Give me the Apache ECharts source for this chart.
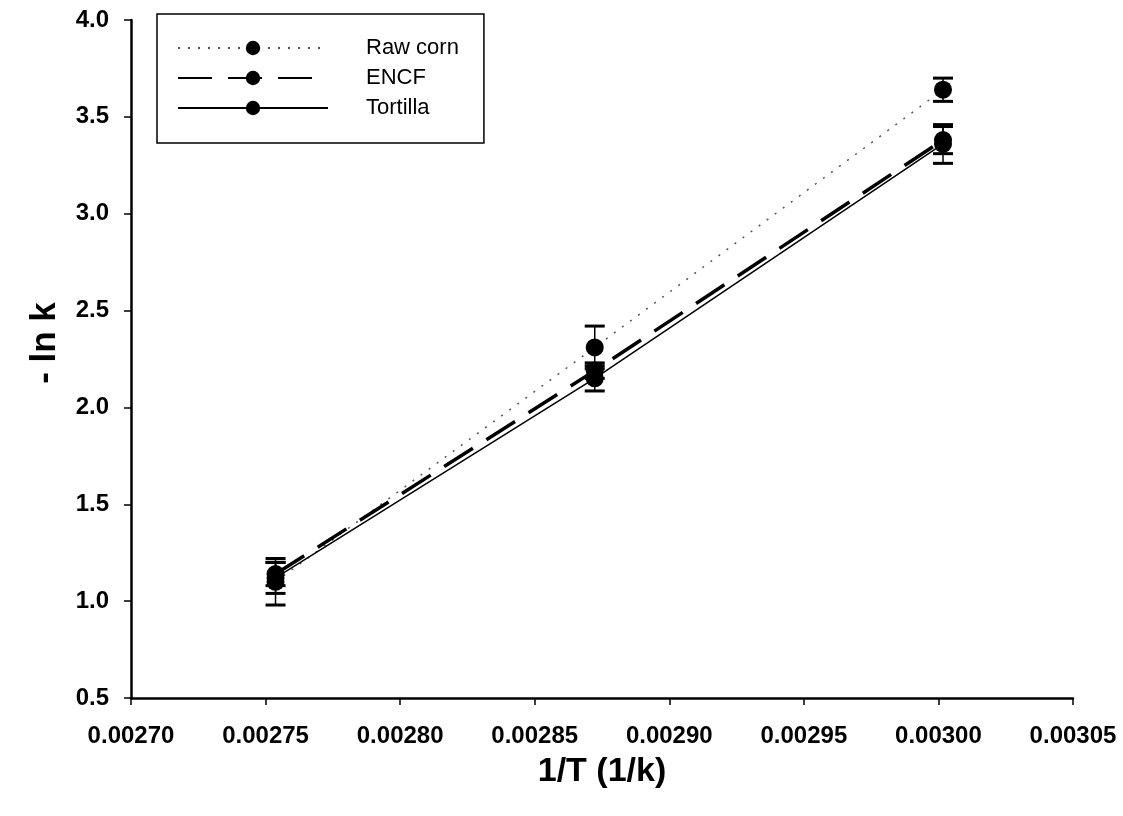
<!DOCTYPE html>
<html><head><meta charset="utf-8">
<script src="https://cdn.jsdelivr.net/npm/echarts@6/dist/echarts.min.js"></script>
<style>html,body{margin:0;padding:0;background:#fff}#c{width:1123px;height:816px}</style>
</head><body><div id="c"></div>
<script>
var xValues = [0.0027537, 0.0028723, 0.0030017];
var seriesNames = ['Raw corn', 'ENCF', 'Tortilla'];
var rawCorn = [1.10, 2.31, 3.64];
var rawCornErr = [0.12, 0.11, 0.06];
var encf = [1.14, 2.19, 3.38];
var encfErr = [0.06, 0.04, 0.07];
var tortilla = [1.12, 2.15, 3.36];
var tortillaErr = [0.08, 0.065, 0.10];
var xTicks = ['0.00270','0.00275','0.00280','0.00285','0.00290','0.00295','0.00300','0.00305'];
var yTicks = ['0.5','1.0','1.5','2.0','2.5','3.0','3.5','4.0'];

function pts(v){ return xValues.map(function(x,i){ return [x, v[i]]; }); }
function errs(v,e){ return xValues.map(function(x,i){ return [x, v[i]-e[i], v[i]+e[i]]; }); }

var FONT = '"Liberation Sans", Arial, sans-serif';
function errSeries(v,e){
  return {
    type:'custom', silent:true, z:4,
    data: errs(v,e),
    renderItem: function(params, api){
      var x = api.value(0);
      var lo = api.coord([x, api.value(1)]);
      var hi = api.coord([x, api.value(2)]);
      var w = 10;
      return {type:'group', children:[
        {type:'line', shape:{x1:lo[0],y1:lo[1],x2:hi[0],y2:hi[1]}, style:{stroke:'#000',lineWidth:1.5}},
        {type:'line', shape:{x1:lo[0]-w,y1:lo[1],x2:lo[0]+w,y2:lo[1]}, style:{stroke:'#000',lineWidth:3}},
        {type:'line', shape:{x1:hi[0]-w,y1:hi[1],x2:hi[0]+w,y2:hi[1]}, style:{stroke:'#000',lineWidth:3}}
      ]};
    }
  };
}

var chart = echarts.init(document.getElementById('c'));
chart.setOption({
  animation:false,
  backgroundColor:'#fff',
  grid:{left:131, right:50, top:20, bottom:118},
  legend:{
    left:157, top:14, orient:'vertical',
    data: seriesNames,
    itemWidth:150, itemHeight:18, itemGap:8,
    padding:[23, 25, 24, 20],
    borderColor:'#000', borderWidth:1.5,
    textStyle:{fontFamily:FONT, fontSize:22, color:'#000', padding:[0,0,0,33]}
  },
  xAxis:{
    type:'value', min:0.0027, max:0.00305, interval:0.00005,
    name:'1/T (1/k)', nameLocation:'middle', nameGap:57,
    nameTextStyle:{fontFamily:FONT, fontSize:34, fontWeight:'bold', color:'#000'},
    axisLine:{lineStyle:{color:'#000', width:2.5}},
    axisTick:{inside:false, length:7, lineStyle:{color:'#000', width:1.5}},
    axisLabel:{margin:26, fontFamily:FONT, fontSize:24, fontWeight:'bold', color:'#000',
      formatter:function(v){ var i=Math.round((v-0.0027)/0.00005); return xTicks[i]; }},
    splitLine:{show:false}
  },
  yAxis:{
    type:'value', min:0.5, max:4.0, interval:0.5,
    name:'- ln k', nameLocation:'middle', nameGap:68, nameRotate:90,
    nameTextStyle:{fontFamily:FONT, fontSize:35, fontWeight:'bold', color:'#000', padding:[0,0,0,32]},
    axisLine:{show:true, lineStyle:{color:'#000', width:2.5}},
    axisTick:{show:true, inside:false, length:7, lineStyle:{color:'#000', width:1.5}},
    axisLabel:{margin:22, fontFamily:FONT, fontSize:24, fontWeight:'bold', color:'#000',
      formatter:function(v){ var i=Math.round((v-0.5)/0.5); return yTicks[i]; }},
    splitLine:{show:false}
  },
  series:[
    {name:'Raw corn', type:'line', data:pts(rawCorn), symbol:'circle', symbolSize:18, z:5,
     itemStyle:{color:'#000'}, lineStyle:{color:'#555', width:1.5, type:[2,8]}},
    {name:'ENCF', type:'line', data:pts(encf), symbol:'circle', symbolSize:18, z:5,
     itemStyle:{color:'#000'}, lineStyle:{color:'#000', width:3.5, type:[34,16]}},
    {name:'Tortilla', type:'line', data:pts(tortilla), symbol:'circle', symbolSize:18, z:5,
     itemStyle:{color:'#000'}, lineStyle:{color:'#000', width:1.5}},
    errSeries(rawCorn, rawCornErr),
    errSeries(encf, encfErr),
    errSeries(tortilla, tortillaErr)
  ]
});
</script></body></html>
